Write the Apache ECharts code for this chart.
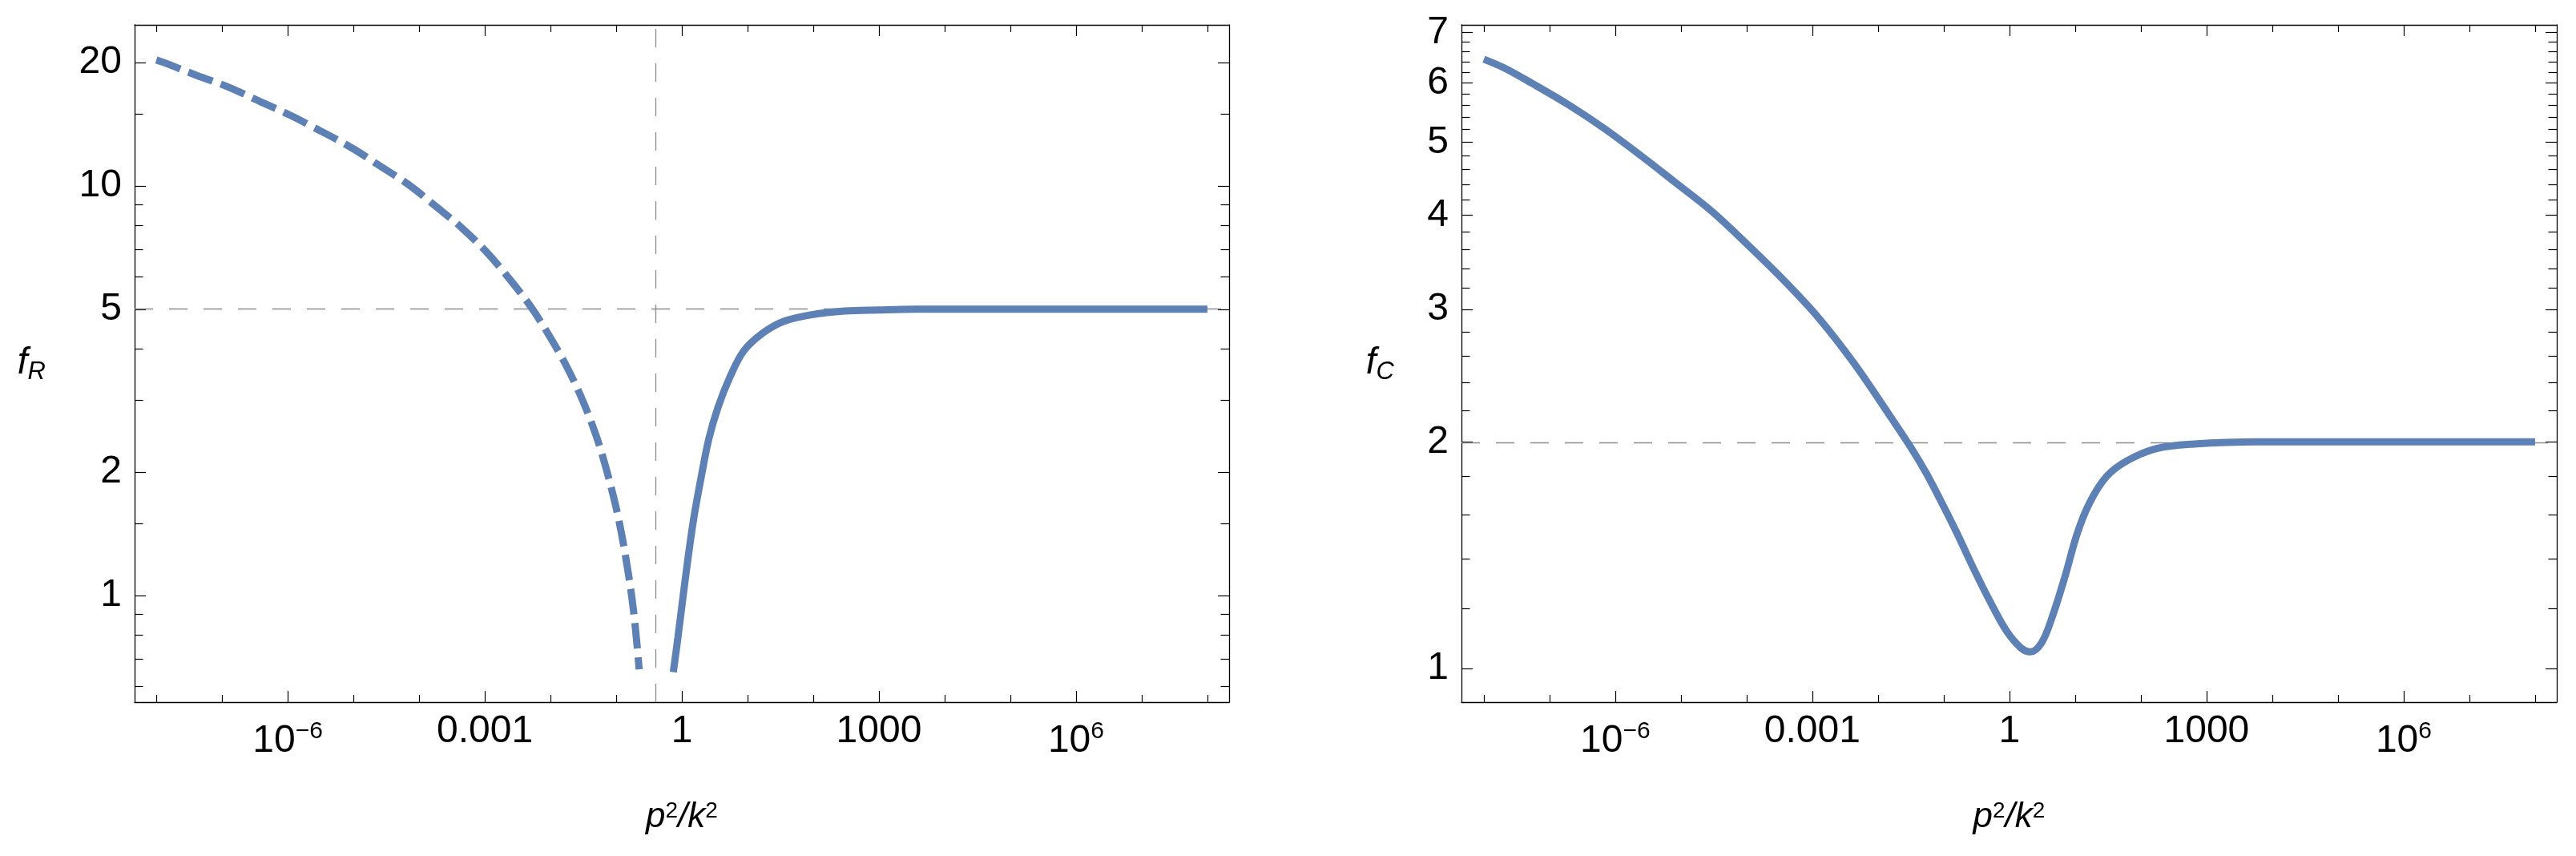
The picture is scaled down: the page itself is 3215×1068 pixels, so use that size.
<!DOCTYPE html>
<html>
<head>
<meta charset="utf-8">
<script src="https://cdn.jsdelivr.net/npm/echarts@6/dist/echarts.min.js"></script>
<style>
  html, body { margin: 0; padding: 0; background: #fff; }
  #chart { width: 3215px; height: 1068px; }
</style>
</head>
<body>
<div id="chart"></div>
<script>
// x values are log10(p^2/k^2), f values are read off the plot
// left panel, f_R: dashed branch left of the pole, solid branch right of it
const rDashedX = [-8, -7.88, -7.38, -6.89, -6.43, -5.95, -5.64, -5.03, -4.6, -4.17, -3.74, -3.35, -2.96, -2.64, -2.31, -2.03, -1.76, -1.52, -1.31, -1.17, -1.02, -0.92, -0.81, -0.74, -0.69, -0.65]
const rDashedF = [20.3, 20.0, 18.6, 17.4, 16.1, 14.85, 14.0, 12.4, 11.2, 10.1, 8.9, 7.9, 6.86, 5.97, 5.1, 4.34, 3.64, 3.02, 2.47, 2.09, 1.69, 1.42, 1.12, 0.93, 0.78, 0.66]
const rSolidX = [-0.13, -0.06, 0.01, 0.09, 0.18, 0.29, 0.41, 0.55, 0.73, 0.94, 1.23, 1.55, 1.98, 2.48, 3.0, 3.56, 4.5, 6, 8]
const rSolidF = [0.65, 0.79, 0.97, 1.22, 1.54, 1.93, 2.41, 2.88, 3.41, 3.95, 4.37, 4.67, 4.85, 4.95, 4.98, 5.0, 5.0, 5.0, 5.0]

// right panel, f_C
const cX = [-8, -7.69, -7.25, -6.71, -6.17, -5.62, -5.08, -4.53, -3.99, -3.45, -2.9, -2.36, -1.81, -1.49, -1.27, -1.06, -0.81, -0.55, -0.3, -0.04, 0.18, 0.32, 0.49, 0.65, 0.84, 1.03, 1.22, 1.48, 1.8, 2.24, 2.81, 3.76, 5, 6.5, 8]
const cF = [6.45, 6.28, 5.98, 5.61, 5.22, 4.81, 4.42, 4.05, 3.66, 3.29, 2.92, 2.54, 2.16, 1.96, 1.82, 1.68, 1.52, 1.36, 1.23, 1.12, 1.064, 1.052, 1.082, 1.17, 1.32, 1.51, 1.66, 1.8, 1.89, 1.96, 1.987, 2.0, 2.0, 2.0, 2.0]

// reference lines
const rAsymptote = 5
const rPoleX = -0.4
const cAsymptote = 2

// ticks
const xMajorTicks = [-6, -3, 0, 3, 6]
const xMinorTicks = [-8, -7, -5, -4, -2, -1, 1, 2, 4, 5, 7, 8]
const xTickLabels = ['{b|10}{s|\u22126}', '{n|0.001}', '{n|1}', '{n|1000}', '{b|10}{s|6}']
const rYLabels = [1, 2, 5, 10, 20]
const rYMinor = [0.6, 0.7, 0.8, 0.9, 1.5, 3, 4, 6, 7, 8, 9, 15]
const cYLabels = [1, 2, 3, 4, 5, 6, 7]
const cYMinor = [1.2, 1.4, 1.6, 1.8, 2.2, 2.4, 2.6, 2.8, 3.2, 3.4, 3.6, 3.8, 4.2, 4.4, 4.6, 4.8, 5.2, 5.4, 5.6, 5.8, 6.2, 6.4, 6.6, 6.8]

const lg = Math.log10
const FONT = '"Liberation Sans", Arial, sans-serif'
const BLUE = '#5E81B5'
const GRIDLINE = { type: [23, 20], color: '#8c8c8c', width: 1.3 }

const chart = echarts.init(document.getElementById('chart'))

const xAxes = []
const yAxes = []

function tickLine() {
  return { color: '#000', width: 1.2 }
}

function addXAxes(grid, min, max) {
  ['bottom', 'top'].forEach((pos) => {
    const withLabels = pos === 'bottom'
    xAxes.push({
      type: 'value', gridIndex: grid, position: pos, min: min, max: max,
      splitLine: { show: false },
      axisLine: { show: true, onZero: false, lineStyle: { color: '#000', width: 1.3 } },
      axisTick: { show: true, inside: true, length: 14, customValues: xMajorTicks, lineStyle: tickLine() },
      axisLabel: withLabels ? {
        show: true,
        margin: 9,
        customValues: xMajorTicks,
        formatter: (v) => xTickLabels[xMajorTicks.indexOf(Math.round(v))],
        rich: {
          n: { fontSize: 48, lineHeight: 56, fontFamily: FONT, color: '#000' },
          b: { fontSize: 48, lineHeight: 56, fontFamily: FONT, color: '#000', padding: [24, 0, 0, 0] },
          s: { fontSize: 30, lineHeight: 56, fontFamily: FONT, color: '#000' }
        }
      } : { show: false },
      name: withLabels ? '{i|p}{u|2}{i|/k}{u|2}' : '',
      nameLocation: 'middle',
      nameGap: 116,
      nameTextStyle: {
        rich: {
          i: { fontSize: 44, lineHeight: 56, fontStyle: 'italic', fontFamily: FONT, color: '#000' },
          u: { fontSize: 28, lineHeight: 56, fontFamily: FONT, color: '#000', padding: [0, 0, 16, 0] }
        }
      }
    })
    xAxes.push({
      type: 'value', gridIndex: grid, position: pos, min: min, max: max,
      splitLine: { show: false },
      axisLine: { show: false, onZero: false },
      axisTick: { show: true, inside: true, length: 9, customValues: xMinorTicks, lineStyle: tickLine() },
      axisLabel: { show: false }
    })
  })
}

function addYAxes(grid, min, max, labels, minor, name, nameGap) {
  ['left', 'right'].forEach((pos) => {
    const withLabels = pos === 'left'
    yAxes.push({
      type: 'value', gridIndex: grid, position: pos, min: min, max: max,
      splitLine: { show: false },
      axisLine: { show: true, onZero: false, lineStyle: { color: '#000', width: 1.3 } },
      axisTick: { show: true, inside: true, length: 14, customValues: labels.map(lg), lineStyle: tickLine() },
      axisLabel: withLabels ? {
        show: true,
        margin: 16,
        customValues: labels.map(lg),
        formatter: (v) => String(Math.round(Math.pow(10, v))),
        fontSize: 48,
        fontFamily: FONT,
        color: '#000'
      } : { show: false },
      name: withLabels ? name : '',
      nameLocation: 'middle',
      nameRotate: 0,
      nameGap: nameGap,
      nameTextStyle: {
        rich: {
          f: { fontSize: 46, lineHeight: 56, fontStyle: 'italic', fontFamily: FONT, color: '#000' },
          s: { fontSize: 31, lineHeight: 56, fontStyle: 'italic', fontFamily: FONT, color: '#000', padding: [22, 0, 0, 0] }
        }
      }
    })
    yAxes.push({
      type: 'value', gridIndex: grid, position: pos, min: min, max: max,
      splitLine: { show: false },
      axisLine: { show: false, onZero: false },
      axisTick: { show: true, inside: true, length: 10.5, customValues: minor.map(lg), lineStyle: tickLine() },
      axisLabel: { show: false }
    })
  })
}

addXAxes(0, -8.33, 8.33)
addXAxes(1, -8.34, 8.33)
addYAxes(0, -0.2603, 1.3933, rYLabels, rYMinor, '{f|f}{s|R}', 111)
addYAxes(1, -0.0447, 0.8552, cYLabels, cYMinor, '{f|f}{s|C}', 84)

function pairs(xs, fs) {
  return xs.map((x, i) => [x, lg(fs[i])])
}

chart.setOption({
  backgroundColor: '#fff',
  animation: false,
  grid: [
    { left: 168, top: 31, width: 1366, height: 845, containLabel: false },
    { left: 1824, top: 31, width: 1367, height: 845, containLabel: false }
  ],
  xAxis: xAxes,
  yAxis: yAxes,
  series: [
    {
      name: 'fR negative',
      type: 'line',
      xAxisIndex: 0,
      yAxisIndex: 0,
      z: 3,
      smooth: 0.35,
      showSymbol: false,
      lineStyle: { color: BLUE, width: 9, type: [32, 11], cap: 'butt' },
      data: pairs(rDashedX, rDashedF),
      markLine: {
        silent: true,
        z: 1,
        symbol: ['none', 'none'],
        label: { show: false },
        lineStyle: GRIDLINE,
        data: [{ yAxis: lg(rAsymptote) }, { xAxis: rPoleX }]
      }
    },
    {
      name: 'fR positive',
      type: 'line',
      xAxisIndex: 0,
      yAxisIndex: 0,
      z: 3,
      smooth: 0.35,
      showSymbol: false,
      lineStyle: { color: BLUE, width: 9 },
      data: pairs(rSolidX, rSolidF)
    },
    {
      name: 'fC',
      type: 'line',
      xAxisIndex: 4,
      yAxisIndex: 4,
      z: 3,
      smooth: 0.35,
      showSymbol: false,
      lineStyle: { color: BLUE, width: 9 },
      data: pairs(cX, cF),
      markLine: {
        silent: true,
        z: 1,
        symbol: ['none', 'none'],
        label: { show: false },
        lineStyle: GRIDLINE,
        data: [{ yAxis: lg(cAsymptote) }]
      }
    }
  ]
})
</script>
</body>
</html>
